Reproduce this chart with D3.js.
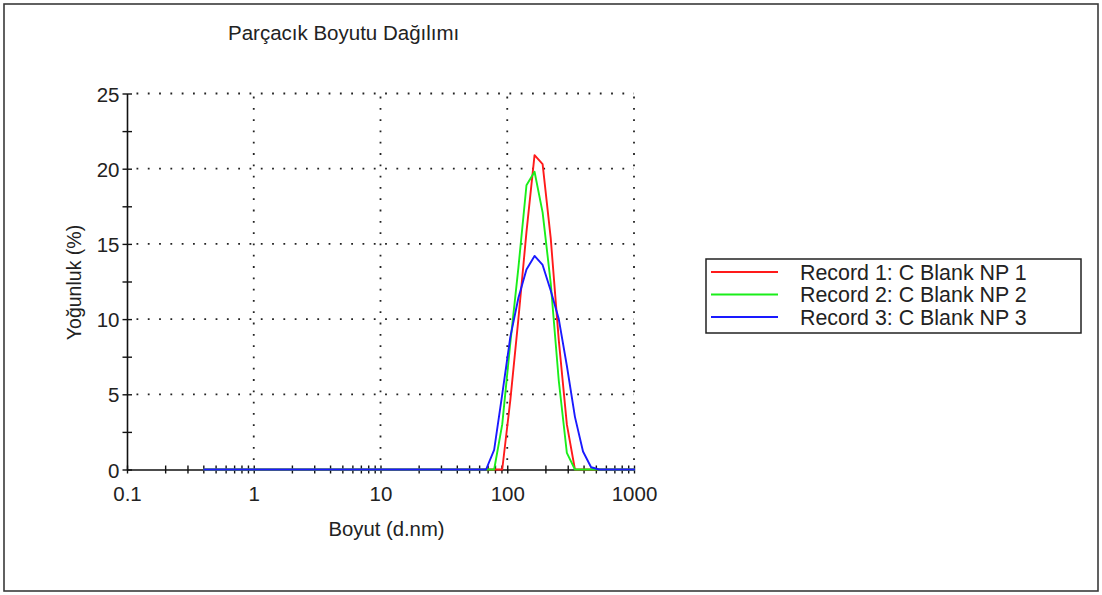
<!DOCTYPE html>
<html>
<head>
<meta charset="utf-8">
<script src="https://cdn.jsdelivr.net/npm/d3@7/dist/d3.min.js"></script>
<style>
  html, body { margin: 0; padding: 0; background: #fff; }
  svg { display: block; }
  text { font-family: "Liberation Sans", Arial, sans-serif; fill: #222; }
</style>
</head>
<body>
<svg id="chart" width="1102" height="595"></svg>
<script>
// Size classes (d.nm) of the distribution, up to the first class past 1000 nm
const sizes = [
  0.4000, 0.4632, 0.5365, 0.6213, 0.7195, 0.8332, 0.9649, 1.117, 1.294, 1.499,
  1.736, 2.010, 2.328, 2.696, 3.122, 3.615, 4.187, 4.849, 5.615, 6.503,
  7.531, 8.721, 10.10, 11.70, 13.54, 15.69, 18.17, 21.04, 24.36, 28.21,
  32.67, 37.84, 43.82, 50.75, 58.77, 68.06, 78.82, 91.28, 105.7, 122.4,
  141.8, 164.2, 190.1, 220.2, 255.0, 295.3, 342.0, 396.1, 458.7, 531.2,
  615.1, 712.4, 825.0, 955.4, 1106
];

// Intensity (%) per size class for each record
const record1 = [
  0, 0, 0, 0, 0, 0, 0, 0, 0, 0,
  0, 0, 0, 0, 0, 0, 0, 0, 0, 0,
  0, 0, 0, 0, 0, 0, 0, 0, 0, 0,
  0, 0, 0, 0, 0, 0, 0, 0, 4.6, 10.0,
  15.8, 20.9, 20.3, 15.4, 8.6, 3.0, 0, 0, 0, 0,
  0, 0, 0, 0, 0
];
const record2 = [
  0, 0, 0, 0, 0, 0, 0, 0, 0, 0,
  0, 0, 0, 0, 0, 0, 0, 0, 0, 0,
  0, 0, 0, 0, 0, 0, 0, 0, 0, 0,
  0, 0, 0, 0, 0, 0, 0, 3.0, 8.4, 13.4,
  18.9, 19.8, 17.1, 12.4, 5.9, 1.1, 0, 0, 0, 0,
  0, 0, 0, 0, 0
];
const record3 = [
  0, 0, 0, 0, 0, 0, 0, 0, 0, 0,
  0, 0, 0, 0, 0, 0, 0, 0, 0, 0,
  0, 0, 0, 0, 0, 0, 0, 0, 0, 0,
  0, 0, 0, 0, 0, 0, 1.3, 5.0, 8.8, 11.4,
  13.3, 14.2, 13.6, 11.9, 10.0, 6.9, 3.5, 1.2, 0.15, 0,
  0, 0, 0, 0, 0
];

const seriesNames = ["Record 1: C Blank NP 1", "Record 2: C Blank NP 2", "Record 3: C Blank NP 3"];
const seriesColors = ["#ff1a1a", "#1aee1a", "#1a1aff"];
const xTickValues = [0.1, 1, 10, 100, 1000];
const xTickLabels = ["0.1", "1", "10", "100", "1000"];
const yTickValues = [0, 5, 10, 15, 20, 25];

const titleText = "Parçacık Boyutu Dağılımı";
const xTitle = "Boyut (d.nm)";
const yTitle = "Yoğunluk (%)";

const svg = d3.select("#chart");
const W = 1102, H = 595;

// Outer frame
svg.append("rect")
  .attr("x", 4).attr("y", 4).attr("width", W - 8).attr("height", H - 8)
  .attr("fill", "#fff").attr("stroke", "#3a3a3a").attr("stroke-width", 1.6);

const plot = { left: 127, right: 634, top: 93.5, bottom: 469.5 };

const x = d3.scaleLog().domain([0.1, 1000]).range([plot.left, plot.right]);
const y = d3.scaleLinear().domain([0, 25]).range([plot.bottom, plot.top]);

const fontSize = 20;

// Dotted grid
const grid = svg.append("g").attr("stroke", "#222").attr("stroke-width", 1.8)
  .attr("stroke-dasharray", "1.8 9.5");
grid.selectAll("line.hy").data(yTickValues.filter(v => v > 0)).join("line")
  .attr("x1", plot.left + 9.5).attr("x2", plot.right)
  .attr("y1", d => y(d)).attr("y2", d => y(d));
grid.selectAll("line.vx").data(xTickValues.filter(v => v > 0.1)).join("line")
  .attr("x1", d => x(d)).attr("x2", d => x(d))
  .attr("y1", plot.bottom - 9.5).attr("y2", plot.top);

// Y axis with ticks every 2.5
const yAxis = d3.axisLeft(y)
  .tickValues(d3.range(0, 25.01, 2.5))
  .tickSizeInner(4.5).tickSizeOuter(0)
  .tickFormat(d => yTickValues.includes(d) ? d3.format("d")(d) : "");
const gy = svg.append("g").attr("transform", `translate(${plot.left},0)`).call(yAxis);
gy.select(".domain").attr("stroke", "#111").attr("stroke-width", 1.6);
gy.selectAll(".tick line").attr("x2", -4.5).attr("x1", 5).attr("stroke", "#111").attr("stroke-width", 1.4);
gy.selectAll(".tick text").attr("x", -7.5).attr("dy", "0.37em")
  .style("font-size", "20.5px").style("font-family", "'Liberation Sans', Arial, sans-serif")
  .attr("fill", "#222");

// X axis: log ticks, majors labelled
const minorX = [];
[0.1, 1, 10, 100].forEach(dec => { for (let k = 2; k <= 9; k++) minorX.push(+(dec * k).toPrecision(3)); });
const xAxis = d3.axisBottom(x)
  .tickValues(xTickValues.concat(minorX))
  .tickSizeInner(4).tickSizeOuter(0)
  .tickFormat(d => { const i = xTickValues.indexOf(d); return i >= 0 ? xTickLabels[i] : ""; });
const gx = svg.append("g").attr("transform", `translate(0,${plot.bottom})`).call(xAxis);
gx.select(".domain").attr("stroke", "#111").attr("stroke-width", 1.6);
gx.selectAll(".tick line").attr("y1", -4).attr("y2", 4).attr("stroke", "#111").attr("stroke-width", 1.4);
gx.selectAll(".tick text").attr("y", 17).attr("dy", "0.71em")
  .style("font-size", "20.5px").style("font-family", "'Liberation Sans', Arial, sans-serif")
  .attr("fill", "#222");

// Distribution curves
svg.append("clipPath").attr("id", "plotclip").append("rect")
  .attr("x", plot.left).attr("y", 0).attr("width", plot.right - plot.left + 1).attr("height", plot.bottom + 2);
const line = d3.line().x(d => x(d[0])).y(d => y(d[1]));
const records = [record1, record2, record3];
svg.append("g").attr("clip-path", "url(#plotclip)")
  .selectAll("path").data(records).join("path")
  .attr("d", vals => line(sizes.map((s, i) => [s, vals[i]])))
  .attr("fill", "none")
  .attr("stroke", (d, i) => seriesColors[i])
  .attr("stroke-width", 1.9)
  .attr("stroke-linejoin", "round");

// Title and axis titles
svg.append("text").attr("x", 228).attr("y", 40)
  .style("font-size", "20.5px").text(titleText);
svg.append("text").attr("x", (plot.left + plot.right) / 2 + 6).attr("y", 536)
  .attr("text-anchor", "middle").style("font-size", "20.3px").text(xTitle);
svg.append("text")
  .attr("transform", `translate(81,${(plot.top + plot.bottom) / 2 + 1}) rotate(-90)`)
  .attr("text-anchor", "middle").style("font-size", "19.5px").text(yTitle);

// Legend
const lg = { x: 706, y: 259, w: 375, h: 74, row: 22.5 };
svg.append("rect").attr("x", lg.x).attr("y", lg.y).attr("width", lg.w).attr("height", lg.h)
  .attr("fill", "#fff").attr("stroke", "#222").attr("stroke-width", 1.5);
const items = svg.append("g").selectAll("g").data(seriesNames).join("g")
  .attr("transform", (d, i) => `translate(${lg.x},${lg.y + 13 + i * lg.row})`);
items.append("line").attr("x1", 5).attr("x2", 72).attr("y1", 0).attr("y2", 0)
  .attr("stroke", (d, i) => seriesColors[i]).attr("stroke-width", 1.9);
items.append("text").attr("x", 94).attr("y", 0).attr("dy", "0.37em")
  .style("font-size", "21.4px").text(d => d);
</script>
</body>
</html>
